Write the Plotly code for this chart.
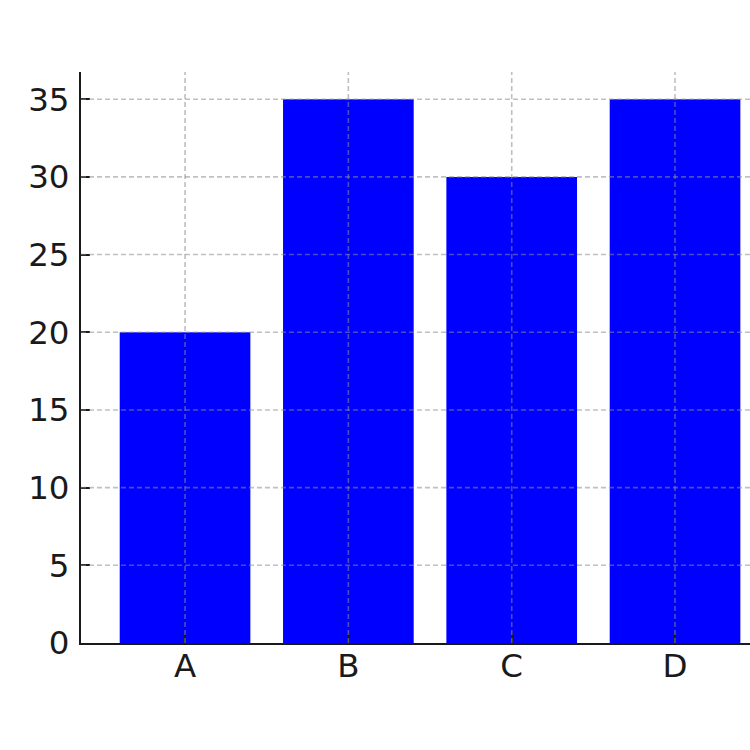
import plotly.graph_objects as go

categories = ["A", "B", "C", "D"]
values = [20, 35, 30, 35]
y_ticks = [0, 5, 10, 15, 20, 25, 30, 35]

GRID = "rgba(140,140,140,0.55)"
DARK = "#1a1a1a"
FONT = dict(family="DejaVu Sans", size=32.5, color=DARK)

fig = go.Figure()
fig.add_trace(go.Bar(x=categories, y=values, width=0.8,
                     marker=dict(color="#0000ff", line=dict(width=0)),
                     hoverinfo="skip"))

shapes = []
for v in y_ticks[1:]:
    shapes.append(dict(type="line", xref="paper", yref="y", x0=0, x1=1, y0=v, y1=v,
                       line=dict(color=GRID, width=1.6, dash="5px,3px"), layer="above"))
for c in categories:
    shapes.append(dict(type="line", xref="x", yref="paper", x0=c, x1=c, y0=0, y1=1,
                       line=dict(color=GRID, width=1.6, dash="5px,3px"), layer="above"))

fig.update_layout(
    width=750, height=750,
    margin=dict(l=81, r=0, t=72, b=107, autoexpand=False),
    paper_bgcolor="white", plot_bgcolor="white",
    showlegend=False,
    shapes=shapes,
    font=FONT,
)
fig.update_xaxes(type="category", range=[-0.637, 3.459], showgrid=False,
                 showline=True, linecolor=DARK, linewidth=2,
                 ticks="inside", ticklen=9, tickwidth=2, tickcolor=DARK,
                 tickfont=FONT,
                 ticklabelstandoff=-7, layer="above traces", zeroline=False,
                 automargin=False)
fig.update_yaxes(range=[0, 36.75], tickvals=y_ticks, showgrid=False,
                 showline=True, linecolor=DARK, linewidth=2,
                 ticks="inside", ticklen=9, tickwidth=2, tickcolor=DARK,
                 tickfont=FONT,
                 ticklabelstandoff=3, layer="above traces", zeroline=False,
                 automargin=False)

fig.write_html(
    "out.html",
    config={"displayModeBar": False},
    post_script="document.body.style.margin='0';document.body.style.overflow='hidden';",
)
